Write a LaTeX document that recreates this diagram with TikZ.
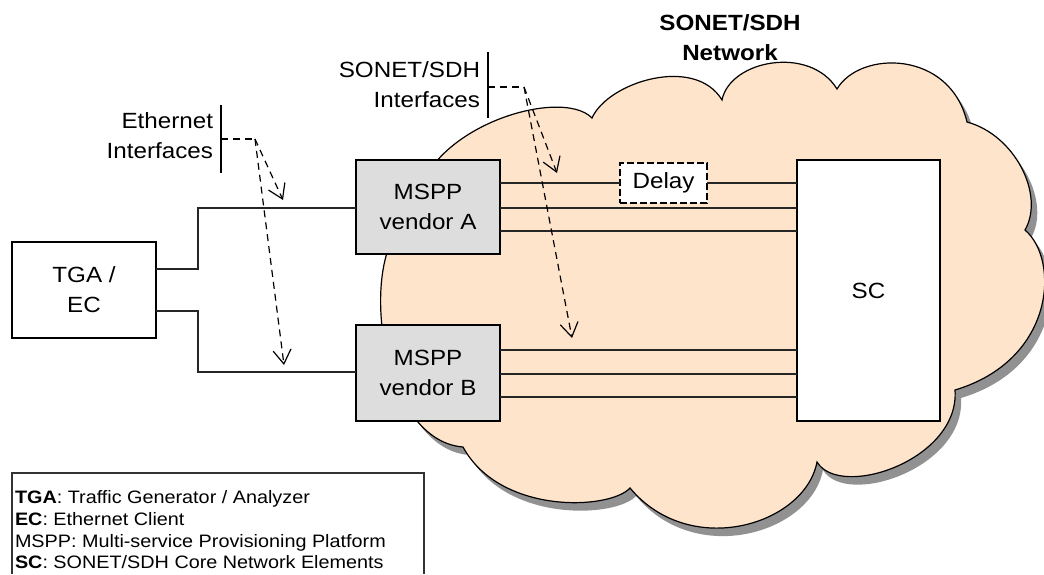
\documentclass[tikz,border=0pt]{standalone}
\usepackage{fontspec}
\setmainfont{Liberation Sans}[FakeStretch=1.1]
\usetikzlibrary{arrows.meta}
\definecolor{cloudfill}{RGB}{255,228,204}
\definecolor{cloudshadow}{RGB}{145,145,145}
\definecolor{boxgray}{RGB}{221,221,221}
\begin{document}
\begin{tikzpicture}[x=0.5pt,y=-0.5pt,
  every node/.style={inner sep=0pt, outer sep=0pt},
  mainfont/.style={font=\fontsize{11}{15}\selectfont},
  legendfont/.style={font=\fontsize{9}{11}\selectfont},
  box/.style={draw=black, line width=0.6pt, mainfont, align=center},
  wire/.style={draw=black!85, line width=0.6pt},
  bracket/.style={draw=black, line width=0.6pt},
  dashwire/.style={draw=black, line width=0.6pt, dash pattern=on 3.5pt off 2.5pt},
  dasharrow/.style={dashwire, -{Straight Barb[length=7pt,width=9pt,line width=0.6pt]}}
]
\useasboundingbox (0,0) rectangle (1044,574);
\def\cloudpath{(415,215) .. controls (415,130) and (560,85) .. (592,118)
  .. controls (608,82) and (695,55) .. (722,100)
  .. controls (730,60) and (810,45) .. (837,89)
  .. controls (860,50) and (950,50) .. (967,122)
  .. controls (1015,135) and (1045,195) .. (1025,230)
  .. controls (1060,260) and (1055,360) .. (955,390)
  .. controls (960,460) and (840,500) .. (817,462)
  .. controls (805,525) and (690,560) .. (630,488)
  .. controls (610,510) and (500,515) .. (463,447)
  .. controls (375,440) and (355,240) .. (415,215) -- cycle}
% cloud shadow and cloud
\fill[cloudshadow, shift={(6,8)}] \cloudpath;
\filldraw[fill=cloudfill, draw=black, line width=0.6pt] \cloudpath;

% nodes
\node[box, fill=white, minimum width=72pt, minimum height=48pt] (tga) at (84,290) {TGA /\\EC};
\node[box, fill=boxgray, minimum width=72pt, minimum height=47pt] (msppA) at (428,207) {MSPP\\vendor A};
\node[box, fill=boxgray, minimum width=72pt, minimum height=48pt] (msppB) at (428,373) {MSPP\\vendor B};
\node[box, fill=white, minimum width=71.5pt, minimum height=130.5pt] (sc) at (868.5,290.5) {SC};
\node[box, fill=white, dash pattern=on 3.5pt off 1.5pt, minimum width=43.5pt, minimum height=20pt] (delay) at (663.5,183) {Delay};

% connectors TGA -> MSPP
\draw[wire] (tga.east |- 0,269) -- (198,269) -- (198,208) -- (msppA.west |- 0,208);
\draw[wire] (tga.east |- 0,311) -- (198,311) -- (198,372) -- (msppB.west |- 0,372);

% connectors MSPP A -> SC
\draw[wire] (delay.west -| msppA.east) -- (delay.west);
\draw[wire] (delay.east) -- (delay.east -| sc.west);
\draw[wire] (msppA.east |- 0,208) -- (sc.west |- 0,208);
\draw[wire] (msppA.east |- 0,231) -- (sc.west |- 0,231);
% connectors MSPP B -> SC
\draw[wire] (msppB.east |- 0,350) -- (sc.west |- 0,350);
\draw[wire] (msppB.east |- 0,374) -- (sc.west |- 0,374);
\draw[wire] (msppB.east |- 0,397) -- (sc.west |- 0,397);

% network label
\node[font=\bfseries\fontsize{11}{15}\selectfont, align=center] (netlabel) at (730,37.5) {SONET/SDH\\Network};

% Ethernet interfaces label
\node[mainfont, align=right, anchor=east] (ethlabel) at (213,136) {Ethernet\\Interfaces};
\coordinate (ethbarT) at (221,105);
\coordinate (ethbarB) at (221,173);
\coordinate (ethbarM) at (221,139);
\coordinate (ethK) at (255,139);
\coordinate (ethTipA) at (283,200);
\coordinate (ethTipB) at (284,365);
\draw[bracket] (ethbarT) -- (ethbarB);
\draw[dashwire] (ethbarM) -- (ethK);
\draw[dasharrow] (ethK) -- (ethTipA);
\draw[dasharrow] (ethK) -- (ethTipB);

% SONET/SDH interfaces label
\node[mainfont, align=right, anchor=east] (sonlabel) at (480,84.5) {SONET/SDH\\Interfaces};
\coordinate (sonbarT) at (488,52);
\coordinate (sonbarB) at (488,118);
\coordinate (sonbarM) at (488,87);
\coordinate (sonK) at (524,87);
\coordinate (sonTipA) at (557,173);
\coordinate (sonTipB) at (572,338);
\draw[bracket] (sonbarT) -- (sonbarB);
\draw[dashwire] (sonbarM) -- (sonK);
\draw[dasharrow] (sonK) -- (sonTipA);
\draw[dasharrow] (sonK) -- (sonTipB);

% legend
\coordinate (legBL) at (12,574);
\coordinate (legTL) at (12,473);
\coordinate (legTR) at (424,473);
\coordinate (legBR) at (424,574);
\draw[draw=black!80, line width=0.6pt] (legBL) -- (legTL) -- (legTR) -- (legBR);
\node[legendfont, anchor=base west] (leg1) at (15,503) {\textbf{TGA}: Traffic Generator / Analyzer};
\node[legendfont, anchor=base west] (leg2) at (15,525) {\textbf{EC}: Ethernet Client};
\node[legendfont, anchor=base west] (leg3) at (15,547) {MSPP: Multi-service Provisioning Platform};
\node[legendfont, anchor=base west] (leg4) at (15,568) {\textbf{SC}: SONET/SDH Core Network Elements};
\end{tikzpicture}
\end{document}
